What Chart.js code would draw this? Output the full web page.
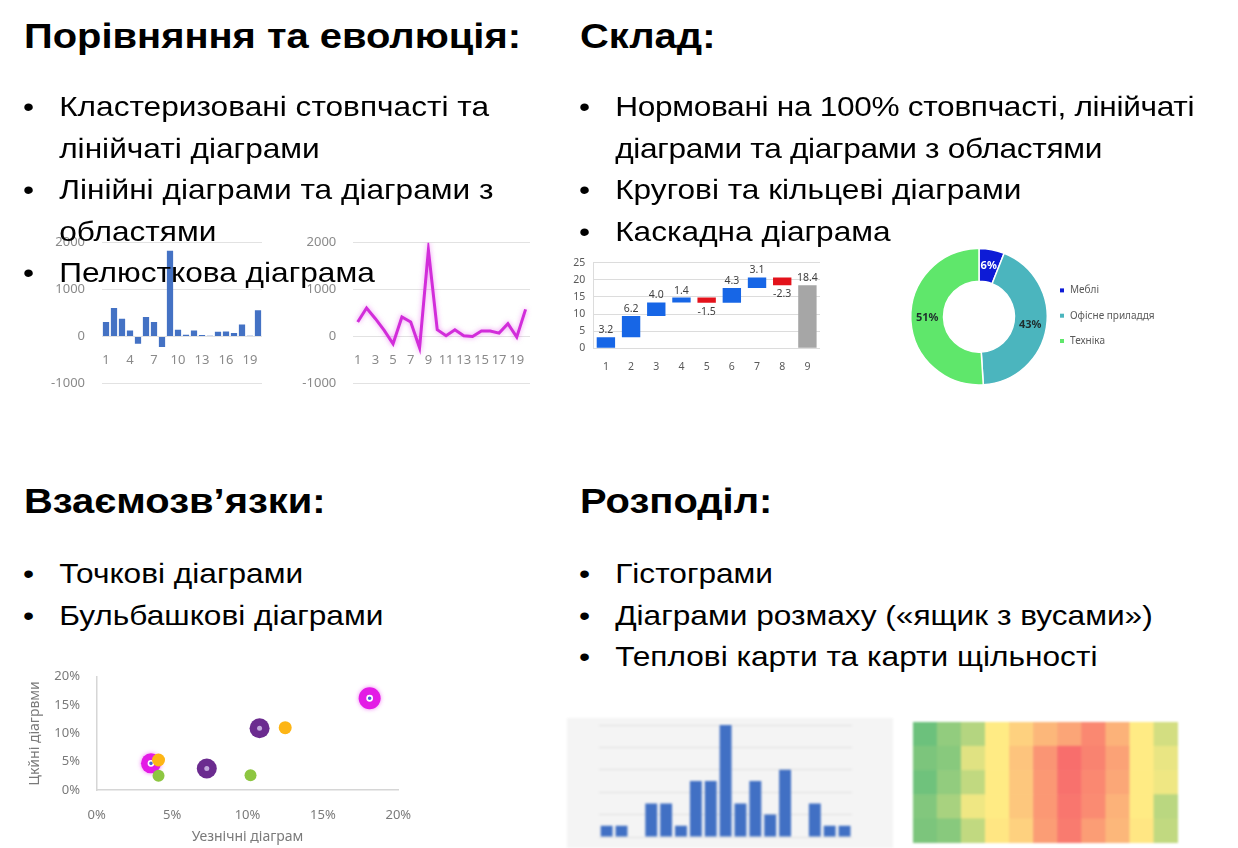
<!DOCTYPE html>
<html lang="uk">
<head>
<meta charset="utf-8">
<title>Типи діаграм</title>
<script src="https://cdn.jsdelivr.net/npm/chart.js@4.4.1/dist/chart.umd.min.js"></script>
<style>
html, body { margin: 0; padding: 0; background: #fff; }
body { position: relative; width: 1238px; height: 848px; overflow: hidden;
  font-family: "Liberation Sans", Arial, sans-serif; color: #000; }
canvas { position: absolute; z-index: 1; }
.heading { position: absolute; z-index: 2; margin: 0; font-family: "Liberation Sans", Arial, sans-serif;
  font-weight: 700; font-size: 35px; line-height: 46px; white-space: nowrap;
  transform: scaleX(1.14); transform-origin: left top; }
.list { position: absolute; z-index: 2; margin: 0; padding: 0; list-style: none;
  font-size: 28px; line-height: 41.5px; white-space: nowrap;
  transform: scaleX(1.13); transform-origin: left top; }
.list li { position: relative; padding-left: 32px; }
.list li::before { content: "•"; position: absolute; left: 0; }
.list li.tight { letter-spacing: -0.28px; }
#heat, #hist { filter: blur(0.8px); }
</style>
</head>
<body>

<h1 class="heading" style="left:24px; top:13px">Порівняння та еволюція:</h1>
<ul class="list" style="left:23px; top:86px">
  <li>Кластеризовані стовпчасті та<br>лінійчаті діаграми</li>
  <li>Лінійні діаграми та діаграми з<br>областями</li>
  <li>Пелюсткова діаграма</li>
</ul>

<h1 class="heading" style="left:580px; top:13px">Склад:</h1>
<ul class="list" style="left:579px; top:86px">
  <li class="tight">Нормовані на 100% стовпчасті, лінійчаті<br>діаграми та діаграми з областями</li>
  <li>Кругові та кільцеві діаграми</li>
  <li>Каскадна діаграма</li>
</ul>

<h1 class="heading" style="left:24px; top:478px">Взаємозв’язки:</h1>
<ul class="list" style="left:23px; top:553px">
  <li>Точкові діаграми</li>
  <li>Бульбашкові діаграми</li>
</ul>

<h1 class="heading" style="left:580px; top:478px">Розподіл:</h1>
<ul class="list" style="left:579px; top:553px">
  <li>Гістограми</li>
  <li>Діаграми розмаху («ящик з вусами»)</li>
  <li>Теплові карти та карти щільності</li>
</ul>

<canvas id="bars" width="230" height="165" style="left:40px; top:230px"></canvas>
<canvas id="line" width="250" height="165" style="left:290px; top:230px"></canvas>
<canvas id="waterfall" width="270" height="125" style="left:560px; top:252px"></canvas>
<canvas id="donut" width="280" height="155" style="left:900px; top:240px"></canvas>
<canvas id="bubble" width="400" height="188" style="left:20px; top:660px"></canvas>
<canvas id="hist" width="326" height="130" style="left:567px; top:718px"></canvas>
<canvas id="heat" width="265" height="121" style="left:913px; top:722px"></canvas>

<script>
// дані
const periods = ['1', '2', '3', '4', '5', '6', '7', '8', '9', '10',
  '11', '12', '13', '14', '15', '16', '17', '18', '19', '20'];
const barValues = [307, 607, 378, 128, -157, 414, 307, -228, 1828, 143,
  36, 128, 28, 14, 100, 107, 71, 257, 14, 557];
const lineValues = [307, 607, 378, 128, -157, 414, 307, -243, 1843, 143,
  14, 143, 14, 0, 114, 114, 71, 271, -14, 578];

const stepLabels = ['1', '2', '3', '4', '5', '6', '7', '8', '9'];
const stepChanges = [3.2, 6.2, 4.0, 1.4, -1.5, 4.3, 3.1, -2.3];
const stepTotal = 18.4;

const shareLabels = ['Меблі', 'Офісне приладдя', 'Техніка'];
const shareValues = [6, 43, 51];
const shareColors = ['#0d1bd6', '#4bb5be', '#5fe76b'];

const magentaBubbles = [{x: 3.6, y: 4.7, r: 10}, {x: 18.1, y: 16.2, r: 11}];
const purpleBubbles = [{x: 10.8, y: 10.9, r: 10}, {x: 7.3, y: 3.8, r: 10}];
const orangeBubbles = [{x: 4.1, y: 5.3, r: 6.5}, {x: 12.5, y: 11.0, r: 6.5}];
const greenBubbles = [{x: 4.1, y: 2.5, r: 6}, {x: 10.2, y: 2.6, r: 6}];

const binLabels = ['1', '2', '3', '4', '5', '6', '7', '8', '9',
  '10', '11', '12', '13', '14', '15', '16', '17'];
const binCounts = [1, 1, 0, 3, 3, 1, 5, 5, 10, 3, 5, 2, 6, 0, 3, 1, 1];

// теплова карта: 0 = зелений, 0.5 = жовтий, 1 = червоний (рядки зверху вниз)
const heatColumns = ['A', 'B', 'C', 'D', 'E', 'F', 'G', 'H', 'I', 'J', 'K'];
const heatRows = [
  [0.03, 0.15, 0.26, 0.5, 0.6, 0.7, 0.77, 0.88, 0.72, 0.5, 0.36],
  [0.08, 0.12, 0.4, 0.5, 0.65, 0.83, 0.98, 0.9, 0.78, 0.5, 0.43],
  [0.04, 0.15, 0.3, 0.5, 0.64, 0.82, 0.97, 0.88, 0.76, 0.5, 0.45],
  [0.1, 0.22, 0.45, 0.5, 0.64, 0.82, 0.95, 0.87, 0.72, 0.5, 0.28],
  [0.08, 0.12, 0.3, 0.52, 0.6, 0.8, 0.93, 0.8, 0.7, 0.52, 0.3]
];

Chart.defaults.font.family = '"Noto Sans", sans-serif';
Chart.defaults.animation = false;
Chart.defaults.plugins.legend.display = false;
Chart.defaults.plugins.tooltip.enabled = false;

const fixWidth = w => scale => { scale.width = w; };
const fixHeight = h => scale => { scale.height = h; };
const plain = v => String(v);
const clear = 'rgba(0,0,0,0)';
// відступ підписів робимо невидимими рисками, щоб не роздувати поля області
const gap = (len, color) => ({ color: color || clear, drawTicks: true, tickLength: len, tickColor: clear });

// кластеризовані стовпці
new Chart(document.getElementById('bars'), {
  type: 'bar',
  data: {
    labels: periods,
    datasets: [{ data: barValues, backgroundColor: '#4472c4', barPercentage: 0.78, categoryPercentage: 1 }]
  },
  options: {
    responsive: false,
    layout: { padding: { top: 12.7, right: 8, bottom: 11.7, left: 0 } },
    scales: {
      x: {
        position: { y: 0 },
        grid: gap(13),
        border: { display: false },
        ticks: {
          autoSkip: false, maxRotation: 0, padding: 3, color: '#8a8a8a', font: { size: 13 },
          callback: (v, i) => (i % 3 === 0 ? periods[i] : '')
        }
      },
      y: {
        min: -1000, max: 2000,
        afterFit: fixWidth(62),
        grid: gap(14, '#e2e2e2'),
        border: { display: false },
        ticks: { stepSize: 1000, padding: 3, color: '#8a8a8a', font: { size: 13 }, callback: plain }
      }
    }
  }
});

// лінійна діаграма
const glow = {
  id: 'glow',
  beforeDatasetDraw(chart) {
    chart.ctx.save();
    chart.ctx.shadowColor = 'rgba(222, 60, 232, 0.55)';
    chart.ctx.shadowBlur = 5;
  },
  afterDatasetDraw(chart) { chart.ctx.restore(); }
};
new Chart(document.getElementById('line'), {
  type: 'line',
  data: {
    labels: periods,
    datasets: [{ data: lineValues, borderColor: '#d22dda', borderWidth: 3, pointRadius: 0, tension: 0 }]
  },
  options: {
    responsive: false,
    layout: { padding: { top: 12.7, right: 10, bottom: 11.7, left: 0 } },
    scales: {
      x: {
        position: { y: 0 },
        offset: true,
        grid: gap(13),
        border: { display: false },
        ticks: {
          autoSkip: false, maxRotation: 0, padding: 3, color: '#8a8a8a', font: { size: 13 },
          callback: (v, i) => (i % 2 === 0 ? periods[i] : '')
        }
      },
      y: {
        min: -1000, max: 2000,
        afterFit: fixWidth(63.3),
        grid: gap(14, '#e2e2e2'),
        border: { display: false },
        ticks: { stepSize: 1000, padding: 3, color: '#8a8a8a', font: { size: 13 }, callback: plain }
      }
    }
  },
  plugins: [glow]
});

// каскадна діаграма
let running = 0;
const stepBars = stepChanges.map(d => {
  const bar = [running, running + d];
  running += d;
  return bar;
});
stepBars.push([0, stepTotal]);
const stepColors = stepChanges.map(d => (d >= 0 ? '#1766e6' : '#e3121b')).concat('#a6a6a6');
const stepTexts = stepChanges.map(d => d.toFixed(1)).concat(stepTotal.toFixed(1));

const stepLabelPlugin = {
  id: 'stepLabels',
  afterDatasetsDraw(chart) {
    const ctx = chart.ctx;
    ctx.save();
    ctx.font = '10.5px "Noto Sans", sans-serif';
    ctx.fillStyle = '#404040';
    ctx.textAlign = 'center';
    ctx.textBaseline = 'middle';
    chart.getDatasetMeta(0).data.forEach((bar, i) => {
      const top = Math.min(bar.y, bar.base);
      const bottom = Math.max(bar.y, bar.base);
      const falling = i < stepChanges.length && stepChanges[i] < 0;
      ctx.fillText(stepTexts[i], bar.x, falling ? bottom + 9 : top - 7);
    });
    ctx.restore();
  }
};
new Chart(document.getElementById('waterfall'), {
  type: 'bar',
  data: {
    labels: stepLabels,
    datasets: [{ data: stepBars, backgroundColor: stepColors, barPercentage: 0.73, categoryPercentage: 1 }]
  },
  options: {
    responsive: false,
    layout: { padding: { top: 10.7, right: 10, bottom: 0, left: 0 } },
    scales: {
      x: {
        afterFit: fixHeight(28.7),
        grid: gap(9),
        border: { display: false },
        ticks: { padding: 3, color: '#595959', font: { size: 10.5 } }
      },
      y: {
        min: 0, max: 25,
        afterFit: fixWidth(33.3),
        grid: gap(5, '#dcdcdc'),
        border: { display: true, color: '#dcdcdc' },
        ticks: { stepSize: 5, padding: 3, color: '#595959', font: { size: 10.5 } }
      }
    }
  },
  plugins: [stepLabelPlugin]
});

// кільцева діаграма
const donutText = {
  id: 'donutText',
  afterDatasetsDraw(chart) {
    const { ctx, chartArea } = chart;
    ctx.save();
    ctx.textAlign = 'center';
    ctx.textBaseline = 'middle';
    ctx.font = 'bold 11px "Noto Sans", sans-serif';
    chart.getDatasetMeta(0).data.forEach((arc, i) => {
      const p = arc.tooltipPosition();
      ctx.fillStyle = i === 0 ? '#ffffff' : '#1f2d2d';
      ctx.fillText(shareValues[i] + '%', p.x, p.y);
    });
    ctx.font = '10px "Noto Sans", sans-serif';
    ctx.textAlign = 'left';
    const cy = (chartArea.top + chartArea.bottom) / 2 - 1;
    const lx = chartArea.right + 12;
    shareLabels.forEach((name, i) => {
      const y = cy + (i - 1) * 25.3;
      ctx.fillStyle = shareColors[i];
      ctx.fillRect(lx, y - 2, 4, 4);
      ctx.fillStyle = '#5a5a5a';
      ctx.fillText(name, lx + 10, y);
    });
    ctx.restore();
  }
};
new Chart(document.getElementById('donut'), {
  type: 'doughnut',
  data: {
    labels: shareLabels,
    datasets: [{ data: shareValues, backgroundColor: shareColors, borderColor: '#ffffff', borderWidth: 1.5, hoverOffset: 0 }]
  },
  options: {
    responsive: false,
    cutout: '52%',
    layout: { padding: { top: 7.7, bottom: 9.3, left: 10, right: 132 } }
  },
  plugins: [donutText]
});

// бульбашкова діаграма (перший набір малюється зверху)
const centers = pts => pts.map(p => ({ x: p.x, y: p.y }));
const pctTicks = { stepSize: 5, padding: 3, color: '#7a7a7a', font: { size: 13 }, callback: v => v + '%' };
const bubbleGlow = {
  id: 'bubbleGlow',
  beforeDatasetDraw(chart, args) {
    chart.ctx.save();
    if (args.index === 5) {
      chart.ctx.shadowColor = 'rgba(235, 40, 240, 0.6)';
      chart.ctx.shadowBlur = 4;
    }
  },
  afterDatasetDraw(chart) { chart.ctx.restore(); }
};
new Chart(document.getElementById('bubble'), {
  type: 'bubble',
  data: {
    datasets: [
      { data: greenBubbles, backgroundColor: '#8dc641' },
      { data: orangeBubbles, backgroundColor: '#fdb515' },
      { data: centers(purpleBubbles), radius: 2.5, backgroundColor: '#c2a8dc', borderWidth: 0 },
      { data: purpleBubbles, backgroundColor: '#6b2b8f' },
      { data: centers(magentaBubbles), radius: 2.6, backgroundColor: '#4a62d8', borderColor: '#ffffff', borderWidth: 1.6 },
      { data: magentaBubbles, backgroundColor: '#e31be5' }
    ]
  },
  options: {
    responsive: false,
    layout: { autoPadding: false, padding: { top: 16.7, right: 21.7, bottom: 0, left: 0 } },
    elements: { point: { borderWidth: 0 } },
    scales: {
      x: {
        min: 0, max: 20,
        afterFit: fixHeight(58),
        grid: gap(14),
        border: { display: true, color: '#d6d6d6', width: 1.5 },
        ticks: pctTicks,
        title: { display: true, text: 'Уезнічні діаграм', color: '#7a7a7a', font: { size: 14 }, padding: { top: 0, bottom: 3 } }
      },
      y: {
        min: 0, max: 20,
        afterFit: fixWidth(76.7),
        grid: gap(13.7),
        border: { display: true, color: '#d6d6d6', width: 1.5 },
        ticks: pctTicks,
        title: { display: true, text: 'Цкйні діагрвми', color: '#7a7a7a', font: { size: 14 }, padding: { top: 6.6, bottom: 0 } }
      }
    }
  },
  plugins: [bubbleGlow]
});

// гістограма
const panelFill = {
  id: 'panelFill',
  beforeDraw(chart) {
    const { ctx, width, height } = chart;
    ctx.save();
    ctx.fillStyle = '#f4f4f4';
    ctx.fillRect(0, 0, width, height);
    ctx.restore();
  }
};
new Chart(document.getElementById('hist'), {
  type: 'bar',
  data: {
    labels: binLabels,
    datasets: [{ data: binCounts, backgroundColor: '#4170c4', barPercentage: 0.8, categoryPercentage: 1 }]
  },
  options: {
    responsive: false,
    layout: { padding: { top: 7, right: 41, bottom: 11, left: 32.2 } },
    scales: {
      x: { display: false },
      y: {
        min: 0, max: 10,
        afterFit: fixWidth(0),
        grid: { color: '#e0e0e0', drawTicks: false },
        border: { display: false },
        ticks: { display: false, stepSize: 2 }
      }
    }
  },
  plugins: [panelFill]
});

// теплова карта
function heatColor(v) {
  const green = [99, 190, 123], yellow = [255, 235, 132], red = [248, 105, 107];
  const [a, b, t] = v < 0.5 ? [green, yellow, v / 0.5] : [yellow, red, (v - 0.5) / 0.5];
  const c = a.map((ch, i) => Math.round(ch + (b[i] - ch) * t));
  return 'rgb(' + c.join(',') + ')';
}
new Chart(document.getElementById('heat'), {
  type: 'bar',
  data: {
    labels: heatColumns,
    datasets: heatRows.slice().reverse().map(row => ({
      data: row.map(() => 1),
      backgroundColor: row.map(heatColor),
      barPercentage: 1, categoryPercentage: 1, borderWidth: 0
    }))
  },
  options: {
    responsive: false,
    layout: { padding: 0 },
    scales: {
      x: { display: false, stacked: true },
      y: { display: false, stacked: true, min: 0, max: heatRows.length }
    }
  }
});
</script>
</body>
</html>
